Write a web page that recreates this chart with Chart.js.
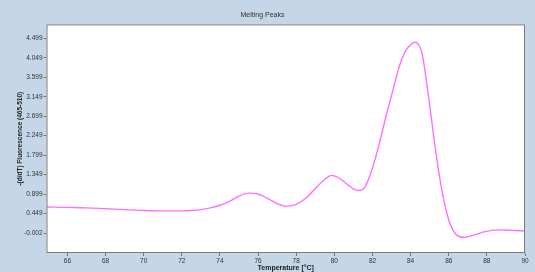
<!DOCTYPE html>
<html>
<head>
<meta charset="utf-8">
<script src="https://cdn.jsdelivr.net/npm/chart.js@4/dist/chart.umd.min.js"></script>
<style>
  html, body { margin: 0; padding: 0; background: #c4d6e7; }
  #wrap { width: 535px; height: 272px; }
</style>
</head>
<body>
<div id="wrap"><canvas id="chart" width="535" height="272"></canvas></div>
<script>
/* ================== DATA ================== */
const temperatures = [
  64.9, 66, 67, 68, 69, 70, 71, 72, 72.5, 73, 73.5, 74, 74.5, 75, 75.5, 76,
  76.5, 77, 77.5, 78, 78.5, 79, 79.5, 79.85, 80.25, 80.6, 81, 81.25, 81.6,
  82, 82.36, 82.7, 83, 83.4, 83.75, 84.1, 84.25, 84.45, 84.6, 85, 85.33,
  85.67, 86, 86.4, 86.8, 87.3, 87.9, 88.6, 89.3, 90
];
const fluorescence = [
  0.60, 0.59, 0.58, 0.56, 0.54, 0.52, 0.51, 0.51, 0.52, 0.54, 0.58, 0.64,
  0.73, 0.85, 0.92, 0.90, 0.80, 0.68, 0.62, 0.66, 0.80, 1.03, 1.24, 1.33,
  1.27, 1.15, 1.02, 0.98, 1.06, 1.50, 2.07, 2.68, 3.18, 3.84, 4.22, 4.39,
  4.41, 4.33, 4.15, 2.95, 1.84, 0.92, 0.30, -0.04, -0.10, -0.05, 0.03,
  0.07, 0.06, 0.045
];
const xTicks = [66, 68, 70, 72, 74, 76, 78, 80, 82, 84, 86, 88, 90];
const yTicks = [-0.002, 0.449, 0.899, 1.349, 1.799, 2.249, 2.699, 3.149, 3.599, 4.049, 4.499];

const FONT = 'Liberation Sans, Arial, sans-serif';
const TEXT = '#333333';

/* ================== PLOT FRAME ================== */
const framePlugin = {
  id: 'frame',
  beforeDatasetsDraw(chart) {
    const { ctx, chartArea: a } = chart;
    ctx.save();
    ctx.fillStyle = '#ffffff';
    ctx.fillRect(a.left, a.top, a.right - a.left, a.bottom - a.top);
    ctx.restore();
  },
  afterDatasetsDraw(chart) {
    const { ctx, chartArea: a } = chart;
    ctx.save();
    ctx.strokeStyle = '#7a7a7a';
    ctx.lineWidth = 1;
    ctx.strokeRect(a.left + 0.5, a.top + 0.5, a.right - a.left - 1, a.bottom - a.top - 1);
    ctx.restore();
  }
};

new Chart(document.getElementById('chart').getContext('2d'), {
  type: 'line',
  data: {
    datasets: [{
      data: temperatures.map((t, i) => ({ x: t, y: fluorescence[i] })),
      borderColor: '#ff6eff',
      borderWidth: 1.4,
      pointRadius: 0,
      fill: false,
      cubicInterpolationMode: 'monotone'
    }]
  },
  options: {
    responsive: false,
    animation: false,
    layout: { padding: { left: 0, right: 10, top: 0, bottom: 0 } },
    plugins: {
      legend: { display: false },
      tooltip: { enabled: false },
      title: {
        display: true,
        text: 'Melting Peaks',
        color: TEXT,
        font: { family: FONT, size: 7, weight: 'normal' },
        padding: { top: 11, bottom: 5 }
      }
    },
    scales: {
      x: {
        type: 'linear',
        min: 64.9,
        max: 90,
        afterBuildTicks: s => { s.ticks = xTicks.map(v => ({ value: v })); },
        afterFit: s => { s.height = 19; s.paddingLeft = 0; s.paddingRight = 0; },
        ticks: {
          color: TEXT,
          font: { family: FONT, size: 6.5 },
          padding: 1,
          maxRotation: 0,
          autoSkip: false
        },
        grid: { drawOnChartArea: false, drawTicks: true, tickLength: 3, color: '#777777' },
        border: { display: false },
        title: {
          display: true,
          text: 'Temperature [°C]',
          color: '#222222',
          font: { family: FONT, size: 7, weight: 'bold' },
          padding: { top: -2, bottom: 0 }
        }
      },
      y: {
        type: 'linear',
        min: -0.464,
        max: 4.822,
        afterBuildTicks: s => { s.ticks = yTicks.map(v => ({ value: v })); },
        afterFit: s => { s.width = 46.5; s.paddingTop = 0; s.paddingBottom = 0; },
        ticks: {
          color: TEXT,
          font: { family: FONT, size: 6.5 },
          padding: 1,
          autoSkip: false,
          callback: v => v.toFixed(3)
        },
        grid: { drawOnChartArea: false, drawTicks: true, tickLength: 3, color: '#777777' },
        border: { display: false },
        title: {
          display: true,
          text: '-(d/dT) Fluorescence (465-510)',
          color: '#222222',
          font: { family: FONT, size: 6.5, weight: 'bold' },
          padding: { top: 16, bottom: 0 }
        }
      }
    }
  },
  plugins: [framePlugin]
});
</script>
</body>
</html>
